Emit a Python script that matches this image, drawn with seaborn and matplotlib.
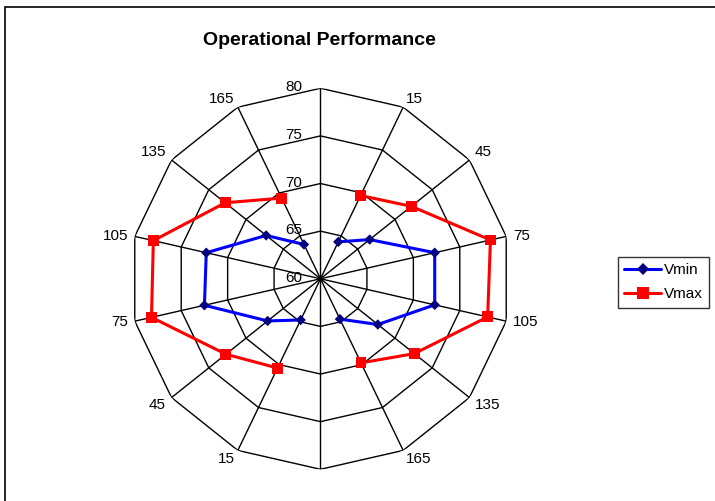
import numpy as np
import pandas as pd
import seaborn as sns
import matplotlib.pyplot as plt
from matplotlib.lines import Line2D
from matplotlib.patches import Rectangle

# 14 spokes, clockwise from the top; top and bottom spokes have no data
categories = ["", "15", "45", "75", "105", "135", "165",
              "", "15", "45", "75", "105", "135", "165"]
vmin = [np.nan, 64.3, 66.6, 72.3, 72.3, 67.7, 64.7,
        np.nan, 64.8, 67.1, 72.5, 72.3, 67.3, 64.0]
vmax = [np.nan, 69.7, 72.2, 78.3, 78.0, 72.6, 69.8,
        np.nan, 70.4, 72.7, 78.2, 78.0, 72.8, 69.4]
rings = [60, 65, 70, 75, 80]

sns.set_style("white")
plt.rcParams["font.family"] = ["Liberation Sans", "DejaVu Sans"]
plt.rcParams["text.color"] = "black"

n = len(categories)
theta = np.arange(n) * 2 * np.pi / n
side = ["right"] * 7 + ["left"] * 7

df = pd.DataFrame({
    "theta": np.tile(theta, 2),
    "value": vmin + vmax,
    "series": ["Vmin"] * n + ["Vmax"] * n,
    "side": side * 2,
}).dropna()

fig = plt.figure(figsize=(7.15, 5.01), dpi=100)
fig.patch.set_facecolor("white")

# chart area border (runs off the right and bottom of the picture)
fig.patches.append(Rectangle((5 / 715, -0.1), 1.2, 1 - 7 / 501 + 0.1,
                             transform=fig.transFigure, fill=False,
                             edgecolor="black", lw=1.2))

ax = fig.add_axes([0.1818, 0.0633, 0.5329, 0.7605], projection="polar")
ax.set_theta_zero_location("N")
ax.set_theta_direction(-1)

# polygon grid and spokes
closed = np.append(theta, theta[0])
for r in rings[1:]:
    ax.plot(closed, [r] * (n + 1), color="black", lw=1, zorder=1)
for t in theta:
    ax.plot([t, t], [60, 80], color="black", lw=1, zorder=1)

line_pal = {"Vmin": "#0000FF", "Vmax": "#FF0000"}
mark_pal = {"Vmin": "#000080", "Vmax": "#FF0000"}

sns.lineplot(data=df, x="theta", y="value", hue="series", units="side",
             estimator=None, sort=False, palette=line_pal, linewidth=2.2,
             legend=False, ax=ax, zorder=3)
sns.scatterplot(data=df, x="theta", y="value", hue="series", style="series",
                size="series", sizes={"Vmin": 28, "Vmax": 62},
                markers={"Vmin": "D", "Vmax": "s"}, palette=mark_pal,
                linewidth=0, legend=False, ax=ax, zorder=4)

ax.set_ylim(60, 80)
ax.set_xticks([])
ax.set_yticks([])
ax.grid(False)
ax.spines["polar"].set_visible(False)
ax.set_xlabel("")
ax.set_ylabel("")

for t, lab in zip(theta, categories):
    if not lab:
        continue
    s, c = np.sin(t), np.cos(t)
    ha = "left" if s > 0 else "right"
    va = "bottom" if c > 0.5 else ("top" if c < -0.5 else "center")
    ax.annotate(lab, xy=(t, 80), xytext=(7 * s, 1.5 * c),
                textcoords="offset pixels", ha=ha, va=va, fontsize=11,
                color="black", annotation_clip=False)

for r in rings:
    ax.annotate(str(r), xy=(0, r), xytext=(-18, 1),
                textcoords="offset pixels", ha="right", va="center",
                fontsize=11, color="black", annotation_clip=False, zorder=5)

fig.text(0.447, 0.910, "Operational Performance", ha="center",
         va="baseline", fontsize=14, fontweight="bold", color="black")

handles = [
    Line2D([], [], color="#0000FF", lw=2.2, marker="D", markersize=6.5,
           markerfacecolor="#000080", markeredgewidth=0),
    Line2D([], [], color="#FF0000", lw=2.2, marker="s", markersize=8,
           markerfacecolor="#FF0000", markeredgewidth=0),
]
leg = fig.legend(handles, ["Vmin", "Vmax"], loc="upper left",
                 bbox_to_anchor=(0.864, 0.487), borderaxespad=0,
                 fontsize=11, frameon=True, fancybox=False,
                 edgecolor="black", handlelength=2.4, handletextpad=0.2,
                 labelspacing=0.65, borderpad=0.42, labelcolor="black")
leg.get_frame().set_linewidth(1)

fig.savefig("out.png", dpi=100)
